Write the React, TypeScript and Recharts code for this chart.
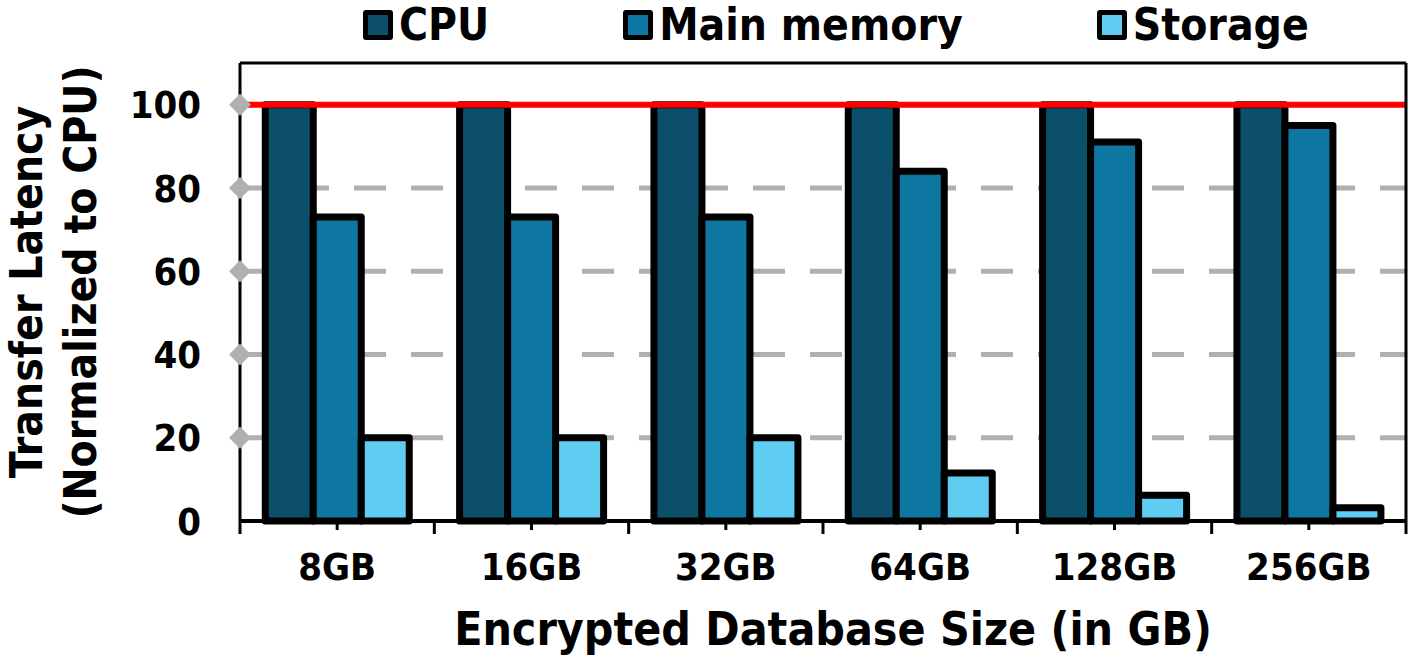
import React from 'react';
import { BarChart, Bar, XAxis, YAxis, CartesianGrid, ReferenceLine } from 'recharts';

const categories = ['8GB', '16GB', '32GB', '64GB', '128GB', '256GB'];
const cpuValues = [100, 100, 100, 100, 100, 100];
const mainMemoryValues = [73, 73, 73, 84, 91, 95];
const storageValues = [20, 20, 20, 11.5, 6.2, 3.2];
const yTicks = [0, 20, 40, 60, 80, 100];
const seriesNames = ['CPU', 'Main memory', 'Storage'];
const seriesColors = ['#0b4f6a', '#0d76a1', '#61ccf2'];
const referenceValue = 100;

const data = categories.map((c, i) => ({
  name: c,
  cpu: cpuValues[i],
  main: mainMemoryValues[i],
  storage: storageValues[i],
}));

const W = 1420;
const H = 659;
const PLOT_LEFT = 240;
const PLOT_RIGHT = 1406;
const PLOT_TOP = 63;
const PLOT_BOTTOM = 521;
const BAND = (PLOT_RIGHT - PLOT_LEFT) / categories.length;

const FONT = "'DejaVu Sans Condensed', 'DejaVu Sans', sans-serif";
const textStyle: React.CSSProperties = { fontFamily: FONT, fontWeight: 700, fontStretch: 'condensed' };

const YTick = (props: any) => {
  const { y, payload } = props;
  const v = payload.value;
  return (
    <g>
      {v !== 0 && (
        <polygon
          points={`${PLOT_LEFT - 11},${y} ${PLOT_LEFT},${y - 11} ${PLOT_LEFT + 11},${y} ${PLOT_LEFT},${y + 11}`}
          fill="#b0b0b0"
        />
      )}
      <text x={PLOT_LEFT - 39} y={y} dy="0.36em" textAnchor="end" fontSize={38} fill="#000" style={textStyle}>
        {v}
      </text>
    </g>
  );
};

const XTick = (props: any) => {
  const { x, payload, index } = props;
  const axisY = PLOT_BOTTOM;
  const isLast = index === categories.length - 1;
  return (
    <g>
      <line x1={x} x2={x} y1={axisY} y2={axisY + 9} stroke="#000" strokeWidth={3} />
      <line x1={x - BAND / 2} x2={x - BAND / 2} y1={axisY} y2={axisY + 13} stroke="#000" strokeWidth={3} />
      {isLast && (
        <line x1={x + BAND / 2} x2={x + BAND / 2} y1={axisY} y2={axisY + 13} stroke="#000" strokeWidth={3} />
      )}
      <text x={x} y={axisY + 59} textAnchor="middle" fontSize={38} fill="#000" style={textStyle}>
        {payload.value}
      </text>
    </g>
  );
};

const XLabel = (props: any) => {
  const vb = props.viewBox || {};
  const cx = (vb.x ?? PLOT_LEFT) + (vb.width ?? PLOT_RIGHT - PLOT_LEFT) / 2 + 10;
  return (
    <text x={cx} y={PLOT_BOTTOM + 124} textAnchor="middle" fontSize={46} fill="#000" style={textStyle}>
      Encrypted Database Size (in GB)
    </text>
  );
};

const YLabel = (props: any) => {
  const vb = props.viewBox || {};
  const cy = (vb.y ?? PLOT_TOP) + (vb.height ?? PLOT_BOTTOM - PLOT_TOP) / 2;
  return (
    <g>
      <text
        x={42}
        y={cy}
        transform={`rotate(-90 42 ${cy})`}
        textAnchor="middle"
        fontSize={44}
        fill="#000"
        style={textStyle}
      >
        Transfer Latency
      </text>
      <text
        x={96}
        y={cy}
        transform={`rotate(-90 96 ${cy})`}
        textAnchor="middle"
        fontSize={44}
        fill="#000"
        style={textStyle}
      >
        (Normalized to CPU)
      </text>
    </g>
  );
};

const Legend = () => (
  <div
    style={{
      position: 'absolute',
      left: 363,
      top: 0,
      height: 50,
      display: 'flex',
      alignItems: 'center',
      gap: 134,
      ...textStyle,
      fontSize: 44,
      lineHeight: '50px',
      whiteSpace: 'nowrap',
    }}
  >
    {seriesNames.map((n, i) => (
      <div key={n} style={{ display: 'flex', alignItems: 'center' }}>
        <div
          style={{
            width: 20,
            height: 20,
            border: '5px solid #000',
            borderRadius: 3,
            background: seriesColors[i],
            marginRight: 6,
          }}
        />
        <span>{n}</span>
      </div>
    ))}
  </div>
);

export default function App() {
  return (
    <div style={{ position: 'absolute', left: 0, top: 0, width: W, height: H, background: '#fff' }}>
      <Legend />
      <BarChart
        width={W}
        height={H}
        data={data}
        margin={{ top: PLOT_TOP - 1, right: W - PLOT_RIGHT - 1, bottom: 0, left: 0 }}
        barCategoryGap="13%"
        barGap={0}
      >
        <CartesianGrid
          horizontal
          vertical={false}
          stroke="#b0b0b0"
          strokeWidth={5}
          strokeDasharray="32 25"
          horizontalValues={[20, 40, 60, 80]}
        />
        <Bar dataKey="cpu" name={seriesNames[0]} fill={seriesColors[0]} stroke="#000" strokeWidth={7} strokeLinejoin="round" isAnimationActive={false} />
        <Bar dataKey="main" name={seriesNames[1]} fill={seriesColors[1]} stroke="#000" strokeWidth={7} strokeLinejoin="round" isAnimationActive={false} />
        <Bar dataKey="storage" name={seriesNames[2]} fill={seriesColors[2]} stroke="#000" strokeWidth={7} strokeLinejoin="round" isAnimationActive={false} />
        <ReferenceLine y={referenceValue} stroke="#ff0000" strokeWidth={6} />
        <XAxis
          dataKey="name"
          height={H - PLOT_BOTTOM}
          axisLine={{ stroke: '#000', strokeWidth: 4 }}
          tickLine={false}
          tick={<XTick />}
          interval={0}
          label={<XLabel />}
        />
        <XAxis xAxisId="top" dataKey="name" orientation="top" height={1} axisLine={{ stroke: '#000', strokeWidth: 3 }} tick={false} tickLine={false} />
        <YAxis
          domain={[0, 110]}
          ticks={yTicks}
          width={PLOT_LEFT}
          axisLine={{ stroke: '#000', strokeWidth: 3 }}
          tickLine={false}
          tick={<YTick />}
          interval={0}
          label={<YLabel />}
        />
        <YAxis yAxisId="right" orientation="right" width={1} domain={[0, 110]} axisLine={{ stroke: '#000', strokeWidth: 3 }} tick={false} tickLine={false} />
      </BarChart>
    </div>
  );
}
